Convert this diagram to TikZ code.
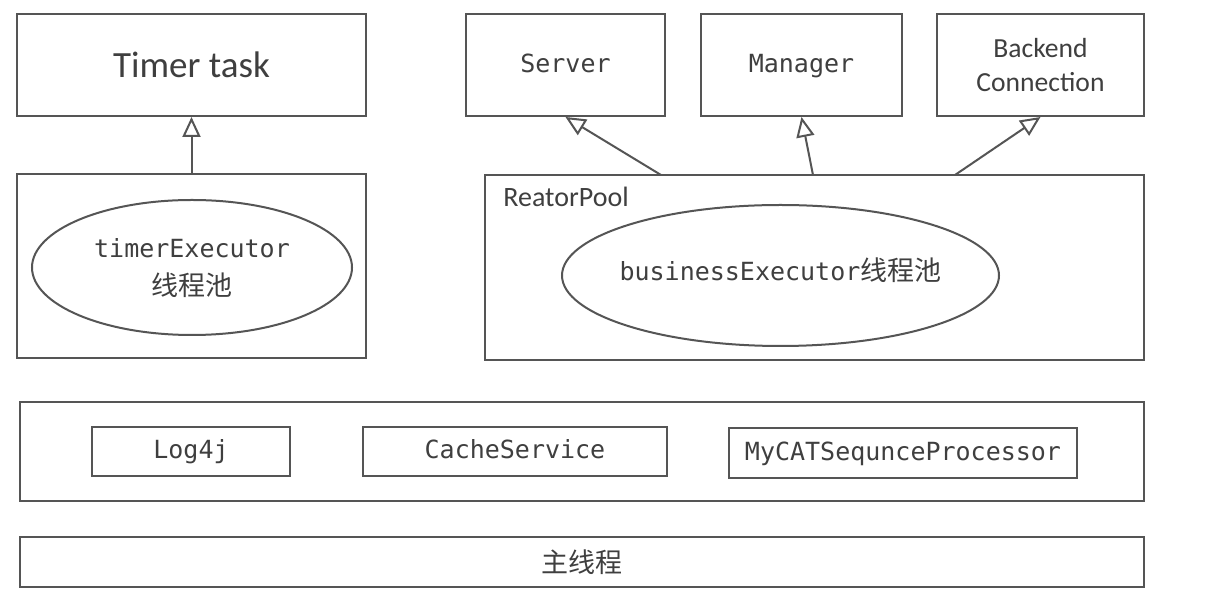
\documentclass[tikz,border=0pt]{standalone}
\usepackage{fontspec}
\setmainfont{Carlito}
\setmonofont{DejaVu Sans Mono}
\newfontfamily\cjk{Noto Sans CJK SC}
\usetikzlibrary{arrows.meta,shapes.geometric}
\definecolor{ln}{HTML}{555555}
\definecolor{tx}{HTML}{3F3F3F}
\tikzset{
  box/.style={draw=ln, line width=1pt, rectangle, inner sep=0pt, text=tx, align=center},
  oval/.style={draw=ln, line width=1pt, ellipse, inner sep=0pt},
  lbl/.style={inner sep=0pt, text=tx, align=center},
  mono/.style={font=\ttfamily\fontsize{12.5}{17}\selectfont, text height=0.8em, text depth=0.05em},
  inh/.style={draw=ln, line width=1pt, -{Triangle[open, length=10pt, width=9pt]}},
}
\begin{document}
\begin{tikzpicture}[x=0.5pt, y=-0.5pt]
\useasboundingbox[fill=white] (0,0) rectangle (1223,603);
% top row
\node[box, minimum width=174.5pt, minimum height=51pt, font=\fontsize{18.5}{22}\selectfont] (timertask) at (191.5,65) {Timer task};
\node[box, mono, minimum width=99.5pt, minimum height=51pt] (server) at (565.5,65) {Server};
\node[box, mono, minimum width=100.5pt, minimum height=51pt] (manager) at (801.5,65) {Manager};
\node[box, minimum width=103.5pt, minimum height=51pt, font=\fontsize{13.8}{17}\selectfont] (backend) at (1040.5,65) {Backend\\Connection};
% middle row
\node[box, minimum width=174.5pt, minimum height=92pt] (timerbox) at (191.5,266) {};
\node[oval, minimum width=160pt, minimum height=67.5pt] (timerexec) at (192,267.5) {};
\node[lbl, mono] (timerexectxt) at (192,250) {timerExecutor};
\node[lbl, font=\cjk\fontsize{13.5}{17}\selectfont] (timerexeccjk) at (192,285) {线程池};
\node[box, minimum width=329.5pt, minimum height=92.5pt] (reator) at (814.5,267.5) {};
\node[anchor=west, inner sep=0pt, text=tx, font=\fontsize{14}{17}\selectfont] (reatorlbl) at (503,197) {ReatorPool};
\node[oval, minimum width=218.5pt, minimum height=70.5pt] (bizexec) at (780.5,275.5) {};
\node[lbl] (bizexectxt) at (780.5,270) {{\ttfamily\fontsize{12.5}{17}\selectfont businessExecutor}{\cjk\fontsize{13.5}{17}\selectfont 线程池}};
% arrows
\draw[inh] (timerbox.north) -- (timertask.south);
\coordinate (a1) at (661,175);
\coordinate (a2) at (813,175);
\coordinate (a3) at (955,175);
\draw[inh] (a1) -- (server.south);
\draw[inh] (a2) -- (manager.south);
\draw[inh] (a3) -- (backend.south);
% services
\node[box, minimum width=562pt, minimum height=49.5pt] (services) at (582,451.5) {};
\node[box, mono, minimum width=99pt, minimum height=24.5pt] (log4j) at (191,451.5) {Log4j};
\node[box, mono, minimum width=152pt, minimum height=24.5pt] (cache) at (515,451.5) {CacheService};
\node[box, mono, minimum width=174pt, minimum height=25pt] (mycat) at (903,453) {MyCATSequnceProcessor};
% main thread
\node[box, minimum width=562pt, minimum height=25pt, font=\cjk\fontsize{13.5}{17}\selectfont] (mainthread) at (582,562) {主线程};
\end{tikzpicture}
\end{document}
